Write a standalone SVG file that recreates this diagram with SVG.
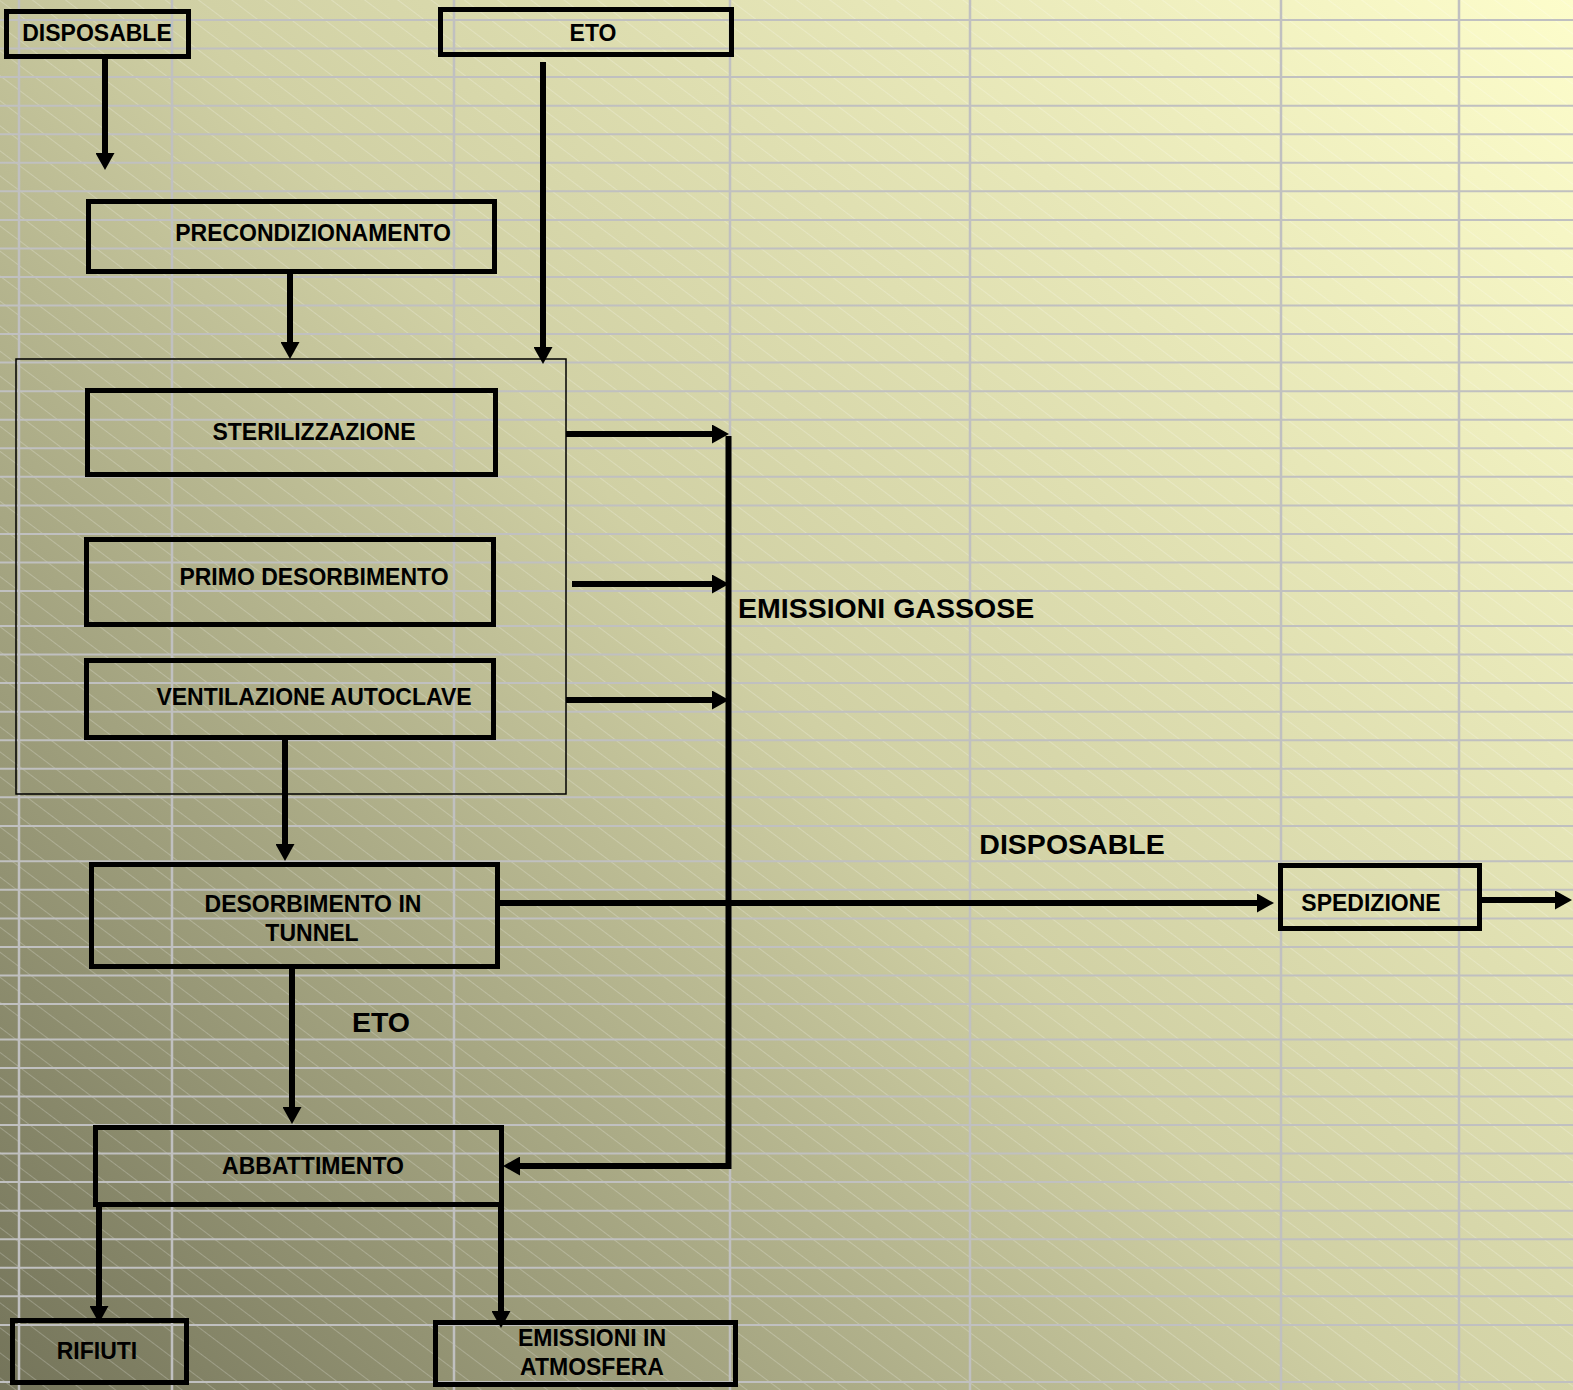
<svg xmlns="http://www.w3.org/2000/svg" width="1573" height="1390" viewBox="0 0 1573 1390">
  <style>
    .box { fill: none; stroke: #000; stroke-width: 5; }
    .lbl { font-family: "Liberation Sans", Arial, sans-serif; font-weight: bold; font-size: 23px; fill: #000; text-anchor: middle; }
    .big { font-family: "Liberation Sans", Arial, sans-serif; font-weight: bold; font-size: 28.5px; fill: #000; }
    .conn { fill: none; stroke: #000; stroke-width: 6; stroke-linejoin: miter; }
    .grid { fill: none; stroke: #c0c0c0; }
  </style>
  <defs>
    <linearGradient id="bg" x1="0" y1="1390" x2="1573" y2="0" gradientUnits="userSpaceOnUse">
      <stop offset="0" stop-color="#74745a"/>
      <stop offset="0.5" stop-color="#d0d0a4"/>
      <stop offset="1" stop-color="#fdfdcb"/>
    </linearGradient>
    <pattern id="hatch" patternUnits="userSpaceOnUse" width="40" height="20" patternTransform="rotate(37)">
      <path d="M0 0.5 H40" stroke="#ffffff" stroke-width="1" stroke-opacity="0.22"/>
    </pattern>
    <marker id="arr" markerUnits="userSpaceOnUse" viewBox="0 0 17 19" refX="6" refY="9.5" markerWidth="17" markerHeight="19" orient="auto">
      <path d="M0 0 L17 9.5 L0 19 Z" fill="#000"/>
    </marker>
  </defs>

  <g id="background">
    <rect x="0" y="0" width="1573" height="1390" fill="url(#bg)"/>
    <rect x="0" y="0" width="1573" height="1390" fill="url(#hatch)"/>
    <path class="grid" stroke-width="2" d="M0 20 H1573 M0 48.6 H1573 M0 77.1 H1573 M0 105.7 H1573 M0 134.2 H1573 M0 162.8 H1573 M0 191.3 H1573 M0 219.9 H1573 M0 248.4 H1573 M0 277 H1573 M0 305.5 H1573 M0 334.1 H1573 M0 362.6 H1573 M0 391.2 H1573 M0 419.7 H1573 M0 448.3 H1573 M0 476.8 H1573 M0 505.4 H1573 M0 533.9 H1573 M0 562.5 H1573 M0 591 H1573 M0 626 H1573 M0 654.6 H1573 M0 683.1 H1573 M0 711.7 H1573 M0 740.2 H1573 M0 768.8 H1573 M0 797.3 H1573 M0 826 H1573 M0 861.3 H1573 M0 889.8 H1573 M0 918.4 H1573 M0 946.9 H1573 M0 975.5 H1573 M0 1004 H1573 M0 1039.5 H1573 M0 1068 H1573 M0 1096.5 H1573 M0 1125 H1573 M0 1153.6 H1573 M0 1182.1 H1573 M0 1210.7 H1573 M0 1239.2 H1573 M0 1267.8 H1573 M0 1296.3 H1573 M0 1324.9 H1573 M0 1382 H1573"/>
    <path class="grid" stroke-width="2.5" d="M19 0 V1390 M172 0 V1390 M454 0 V1390 M730 0 V1390 M970 0 V1390 M1281 0 V1390 M1459 0 V1390"/>
  </g>

  <g id="container">
    <rect x="16" y="359" width="550" height="435" fill="none" stroke="#000" stroke-width="1.5"/>
  </g>

  <g id="connectors">
    <path class="conn" d="M105 59 V159" marker-end="url(#arr)"/>
    <path class="conn" d="M543 62 V353" marker-end="url(#arr)"/>
    <path class="conn" d="M290 274 V348" marker-end="url(#arr)"/>
    <path class="conn" d="M566 434 H718" marker-end="url(#arr)"/>
    <path class="conn" d="M572 584 H718" marker-end="url(#arr)"/>
    <path class="conn" d="M566 700 H718" marker-end="url(#arr)"/>
    <path class="conn" d="M728.5 436 V1166 H514" marker-end="url(#arr)"/>
    <path class="conn" d="M285 739 V850" marker-end="url(#arr)"/>
    <path class="conn" d="M500 903 H1263" marker-end="url(#arr)"/>
    <path class="conn" d="M1482 900 H1561" marker-end="url(#arr)"/>
    <path class="conn" d="M292 969 V1113" marker-end="url(#arr)"/>
    <path class="conn" d="M99 1203 V1312" marker-end="url(#arr)"/>
    <path class="conn" d="M501 1206 V1317" marker-end="url(#arr)"/>
  </g>

  <g id="disposable-top">
    <rect class="box" x="6.5" y="11.5" width="182" height="45"/>
    <text class="lbl" x="97" y="41">DISPOSABLE</text>
  </g>
  <g id="eto-top">
    <rect class="box" x="440.5" y="9.5" width="291" height="45"/>
    <text class="lbl" x="593" y="41">ETO</text>
  </g>
  <g id="precondizionamento">
    <rect class="box" x="88.5" y="201.5" width="406" height="70"/>
    <text class="lbl" x="313" y="241">PRECONDIZIONAMENTO</text>
  </g>
  <g id="sterilizzazione">
    <rect class="box" x="87.5" y="390.5" width="408" height="84"/>
    <text class="lbl" x="314" y="440">STERILIZZAZIONE</text>
  </g>
  <g id="primo-desorbimento">
    <rect class="box" x="86.5" y="539.5" width="407" height="85"/>
    <text class="lbl" x="314" y="585">PRIMO DESORBIMENTO</text>
  </g>
  <g id="ventilazione-autoclave">
    <rect class="box" x="86.5" y="660.5" width="407" height="77"/>
    <text class="lbl" x="314" y="705">VENTILAZIONE AUTOCLAVE</text>
  </g>
  <g id="desorbimento-tunnel">
    <rect class="box" x="91.5" y="864.5" width="406" height="102"/>
    <text class="lbl" x="313" y="912">DESORBIMENTO IN</text>
    <text class="lbl" x="312" y="941">TUNNEL</text>
  </g>
  <g id="abbattimento">
    <rect class="box" x="95.5" y="1127.5" width="406" height="77"/>
    <text class="lbl" x="313" y="1174">ABBATTIMENTO</text>
  </g>
  <g id="rifiuti">
    <rect class="box" x="12.5" y="1320.5" width="174" height="62"/>
    <text class="lbl" x="97" y="1359">RIFIUTI</text>
  </g>
  <g id="emissioni-atmosfera">
    <rect class="box" x="435.5" y="1322.5" width="300" height="62"/>
    <text class="lbl" x="592" y="1346">EMISSIONI IN</text>
    <text class="lbl" x="592" y="1375">ATMOSFERA</text>
  </g>
  <g id="spedizione">
    <rect class="box" x="1280.5" y="865.5" width="199" height="63"/>
    <text class="lbl" x="1371" y="911">SPEDIZIONE</text>
  </g>

  <g id="labels">
    <text class="big" x="738" y="618">EMISSIONI GASSOSE</text>
    <text class="big" x="1072" y="854" text-anchor="middle">DISPOSABLE</text>
    <text class="big" x="381" y="1032" text-anchor="middle">ETO</text>
  </g>
</svg>
